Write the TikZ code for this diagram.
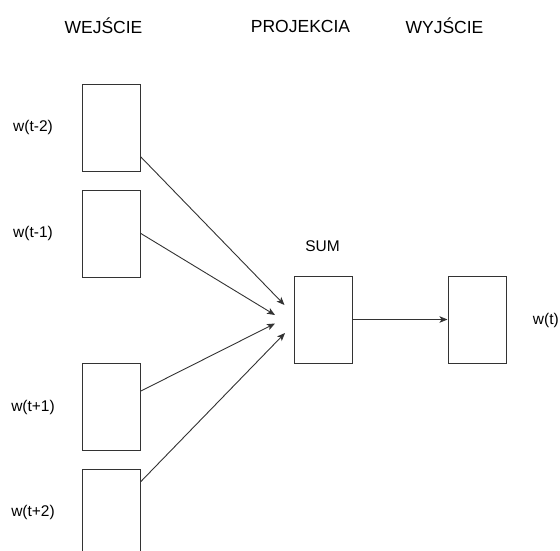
\documentclass[tikz,border=0pt]{standalone}
\usepackage{fontspec}
\setmainfont{Liberation Sans}
\usetikzlibrary{arrows.meta}
\begin{document}
\begin{tikzpicture}[x=1pt,y=-1pt,
  cell/.style={draw=black!80,line width=0.9pt,fill=white,minimum width=58pt,minimum height=86.5pt,inner sep=0pt,anchor=north west},
  header/.style={font=\fontsize{17.5}{20}\selectfont,inner sep=0pt},
  lbl/.style={font=\fontsize{15.5}{18}\selectfont,inner sep=0pt},
  link/.style={draw=black!80,line width=0.9pt,-{Stealth[length=8pt,width=6.5pt,inset=2pt]}}]
\useasboundingbox (0,0) rectangle (560,550);
\clip (0,0) rectangle (560,550);

% column headers
\node[header] (hin)   at (103.5,26) {WEJŚCIE};
\node[header] (hproj) at (300.5,26) {PROJEKCIA};
\node[header] (hout)  at (444.5,26) {WYJŚCIE};

% context word cells
\node[cell] (c1) at (82,84)  {};
\node[cell] (c2) at (82,190) {};
\node[cell] (c3) at (82,363) {};
\node[cell] (c4) at (82,469) {};

\node[lbl] (l1) at (33,127) {w(t-2)};
\node[lbl] (l2) at (33,233) {w(t-1)};
\node[lbl] (l3) at (33,407) {w(t+1)};
\node[lbl] (l4) at (33,512) {w(t+2)};

% projection and output cells
\node[cell] (sum) at (293.5,276) {};
\node[cell] (out) at (447.5,276) {};
\node[lbl] (sumlbl) at (322.5,246) {SUM};
\node[lbl,anchor=east] (outlbl) at (559,320) {w(t)};

% arrow ends in front of the projection cell
\coordinate (e1) at (284.5,305);
\coordinate (e2) at (275,315);
\coordinate (e3) at (275,323.5);
\coordinate (e4) at (285,333);

\draw[link] (c1.east |- 0,157) -- (e1);
\draw[link] (c2.east |- 0,233.5) -- (e2);
\draw[link] (c3.east |- 0,391) -- (e3);
\draw[link] (c4.east |- 0,481.5) -- (e4);
\draw[link] (sum.east |- 0,319.5) -- (out.west |- 0,319.5);
\end{tikzpicture}
\end{document}
